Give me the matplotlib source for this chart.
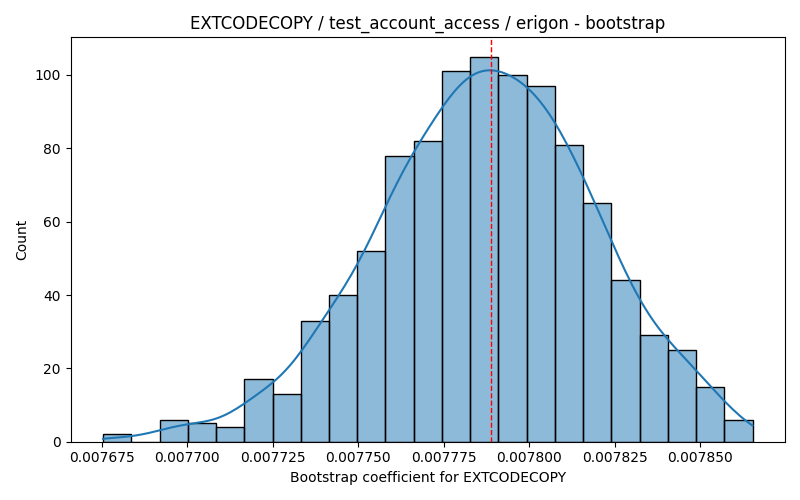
import matplotlib
matplotlib.use("Agg")
import matplotlib.pyplot as plt
import seaborn as sns
import numpy as np
import pandas as pd

# bootstrap histogram (1000 resamples, 23 bins)
lo, hi = 0.0076754, 0.0078653
counts = [2, 0, 6, 5, 4, 17, 13, 33, 40, 52, 78, 82, 101, 105, 100, 97, 81, 65, 44, 29, 25, 15, 6]
point_estimate = 0.0077888

edges = np.linspace(lo, hi, len(counts) + 1)
centers = (edges[:-1] + edges[1:]) / 2
# one row per bootstrap resample, placed at its bin centre
df = pd.DataFrame({"coef": np.repeat(centers, counts)})

fig, ax = plt.subplots(figsize=(8, 5), dpi=100)
sns.histplot(data=df, x="coef", bins=len(counts), binrange=(lo, hi),
             kde=True, kde_kws={"cut": 3, "clip": (lo, hi)}, ax=ax)
ax.axvline(point_estimate, color="red", linestyle="--", linewidth=1)

ax.set_title("EXTCODECOPY / test_account_access / erigon - bootstrap")
ax.set_xlabel("Bootstrap coefficient for EXTCODECOPY")
ax.set_ylabel("Count")
ax.set_xticks([0.007675, 0.0077, 0.007725, 0.00775, 0.007775, 0.0078, 0.007825, 0.00785])

plt.tight_layout()
plt.savefig("out.png")
